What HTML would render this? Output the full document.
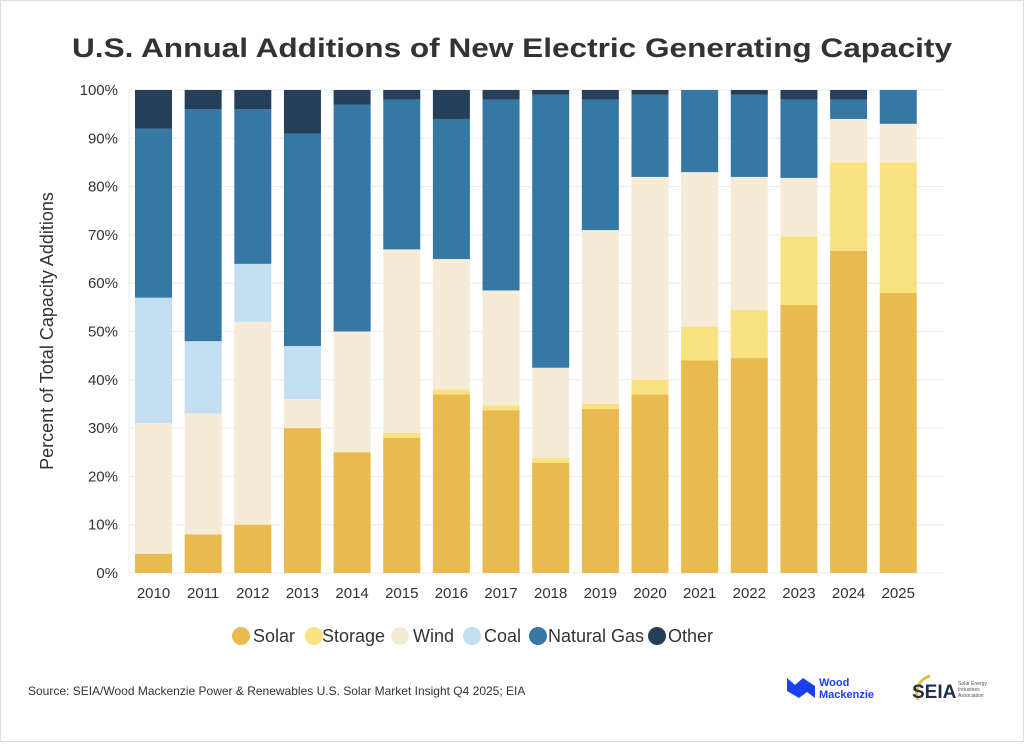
<!DOCTYPE html><html><head><meta charset="utf-8"><style>
body{margin:0;background:#fff;width:1024px;height:742px;overflow:hidden;font-family:"Liberation Sans",sans-serif}
</style></head><body>
<svg width="1024" height="742" xmlns="http://www.w3.org/2000/svg" font-family="Liberation Sans, sans-serif">
<rect x="0.5" y="0.5" width="1023" height="741" fill="#fff" stroke="#ddd"/>
<text x="512" y="57" text-anchor="middle" font-size="27" font-weight="bold" fill="#333" textLength="880" lengthAdjust="spacingAndGlyphs">U.S. Annual Additions of New Electric Generating Capacity</text>
<g id="grid" stroke="#ececec" stroke-width="1"></g>
<g id="bars"></g>
<g id="lbl" font-size="15" fill="#333"></g>
<text transform="translate(53,331) rotate(-90)" text-anchor="middle" font-size="18" fill="#333">Percent of Total Capacity Additions</text>
<g font-size="18" fill="#333">
<circle cx="241" cy="636" r="9" fill="#e9bb4f"/><text x="253" y="642">Solar</text>
<circle cx="314" cy="636" r="9" fill="#f9e27f"/><text x="322" y="642">Storage</text>
<circle cx="400" cy="636" r="9" fill="#f6ebd6"/><text x="413" y="642">Wind</text>
<circle cx="472" cy="636" r="9" fill="#c4dff1"/><text x="484" y="642">Coal</text>
<circle cx="538" cy="636" r="9" fill="#3578a6"/><text x="548" y="642">Natural Gas</text>
<circle cx="657" cy="636" r="9" fill="#263f58"/><text x="668" y="642">Other</text>
</g>
<text x="28" y="695" font-size="12" fill="#333">Source: SEIA/Wood Mackenzie Power &amp; Renewables U.S. Solar Market Insight Q4 2025; EIA</text>
<path d="M787 678 L795 685 L803 678 L815 686 L815 698 L807 692 L799 698 L787 691 Z" fill="#1d3ff0"/>
<text x="819" y="686" font-size="11" font-weight="bold" fill="#1d3ff0">Wood</text>
<text x="819" y="698" font-size="11" font-weight="bold" fill="#1d3ff0">Mackenzie</text>
<path d="M918 700 A18 18 0 0 1 930 676" stroke="#e9bb4f" stroke-width="3" fill="none"/>
<text x="912" y="698" font-size="19" font-weight="bold" fill="#1e2f4a">SEIA</text>
<text x="958" y="685" font-size="5" fill="#555">Solar Energy</text>
<text x="958" y="691" font-size="5" fill="#555">Industries</text>
<text x="958" y="697" font-size="5" fill="#555">Association</text>
</svg>
<script>
const ns="http://www.w3.org/2000/svg";
const Y=p=>573-4.83*p;
const g=document.getElementById('grid'),b=document.getElementById('bars'),l=document.getElementById('lbl');
function el(p,t,a,txt){const e=document.createElementNS(ns,t);for(const k in a)e.setAttribute(k,a[k]);if(txt)e.textContent=txt;p.appendChild(e);return e;}
for(let i=0;i<=10;i++){const y=Y(i*10);el(g,'line',{x1:129,x2:945,y1:y,y2:y});el(l,'text',{x:118,y:y+5,'text-anchor':'end'},i*10+'%');}
el(g,'line',{x1:129,x2:129,y1:90,y2:573});
const cols=['#e9bb4f','#f9e27f','#f6ebd6','#c4dff1','#3578a6','#263f58'];
const d=[[4,4,31,57,92],[8,8,33,48,96],[10,10,52,64,96],[30,30,36,47,91],[25,25,50,50,97],[28,29,67,67,98],[37,38,65,65,94],[33.7,34.7,58.5,58.5,98],[22.8,23.8,42.5,42.5,99],[34,35,71,71,98],[37,40,82,82,99],[44,51,83,83,100],[44.5,54.5,82,82,99],[55.5,69.7,81.8,81.8,98],[66.7,85,94,94,98],[58,85,93,93,100]];
d.forEach((r,i)=>{const x=135+i*49.65;let prev=0;const c=[...r,100];
c.forEach((v,k)=>{if(v>prev){el(b,'rect',{x:x,y:Y(v),width:37,height:Y(prev)-Y(v),fill:cols[k]});}prev=Math.max(prev,v);});
el(l,'text',{x:x+18.5,y:598,'text-anchor':'middle'},String(2010+i));});
</script>
</body></html>
